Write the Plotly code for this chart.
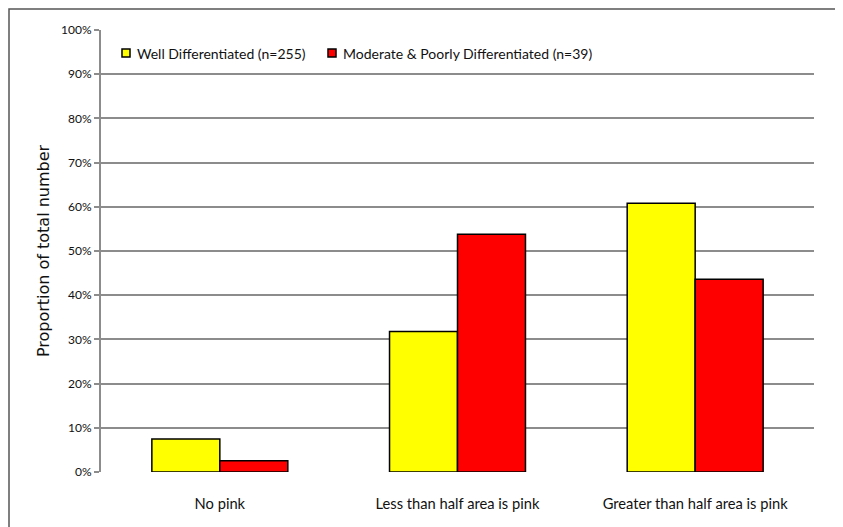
import plotly.graph_objects as go

categories = ["No pink", "Less than half area is pink", "Greater than half area is pink"]
well = [7.45, 31.8, 60.8]
moderate = [2.56, 53.8, 43.6]
series_names = ["Well Differentiated (n=255)", "Moderate & Poorly Differentiated (n=39)"]
series_colors = ["#FFFF00", "#FF0000"]
tick_vals = [0, 10, 20, 30, 40, 50, 60, 70, 80, 90, 100]
tick_text = [f"{v}%" for v in tick_vals]

NARROW = "Lato, Liberation Sans, sans-serif"

# page body adds an 8px offset; the figure is sized to compensate
W, H = 835, 519
L, R, T, B = 93, 29, 22, 55
PW, PH = W - L - R, H - T - B


def px_to_paper_x(sx):
    return (sx - 8 - L) / PW


def px_to_paper_y(sy):
    return (H - B + 8 - sy) / PH


fig = go.Figure()
for name, vals, col in zip(series_names, [well, moderate], series_colors):
    fig.add_trace(go.Bar(x=categories, y=vals, name=name, showlegend=False,
                         marker=dict(color=col, line=dict(color="#000000", width=1.5))))

shapes = []
annotations = []
legend_box_x = [122, 328]
legend_text_x = [135, 341]
legend_y = 53
for name, col, bx, tx in zip(series_names, series_colors, legend_box_x, legend_text_x):
    shapes.append(dict(type="rect", xref="paper", yref="paper",
                       x0=px_to_paper_x(bx), x1=px_to_paper_x(bx + 8),
                       y0=px_to_paper_y(legend_y + 4), y1=px_to_paper_y(legend_y - 4),
                       fillcolor=col, line=dict(color="#000000", width=1.5)))
    annotations.append(dict(text=name, xref="paper", yref="paper",
                            x=px_to_paper_x(tx), y=px_to_paper_y(legend_y),
                            xanchor="left", yanchor="middle", showarrow=False,
                            font=dict(family=NARROW, size=14, color="#111111")))

# outer frame
shapes.append(dict(type="rect", xref="paper", yref="paper",
                   x0=(1 - L) / PW, x1=(W + 20 - L) / PW,
                   y0=-(B + 20) / PH, y1=1 + (T - 1) / PH,
                   line=dict(color="#555555", width=1.5), fillcolor="rgba(0,0,0,0)",
                   layer="below"))

fig.update_layout(
    width=W, height=H,
    margin=dict(l=L, r=R, t=T, b=B),
    paper_bgcolor="white", plot_bgcolor="white",
    barmode="group", bargap=0.428, bargroupgap=0,
    font=dict(family=NARROW, size=14, color="#111111"),
    showlegend=False,
    xaxis=dict(showgrid=False, showline=False, ticks="", tickfont=dict(size=14.7),
               ticklabelstandoff=21, fixedrange=True),
    yaxis=dict(range=[0, 100], tickvals=tick_vals, ticktext=tick_text,
               showgrid=True, gridcolor="#8c8c8c", gridwidth=2,
               showline=True, linecolor="#8c8c8c", linewidth=2,
               ticks="outside", ticklen=5, tickcolor="#8c8c8c", tickwidth=2,
               tickfont=dict(size=12),
               title=dict(text="Proportion of total number",
                          font=dict(family="DejaVu Sans, sans-serif", size=16),
                          standoff=7),
               zeroline=False),
    shapes=shapes,
    annotations=annotations,
)

fig.write_html("out.html")
